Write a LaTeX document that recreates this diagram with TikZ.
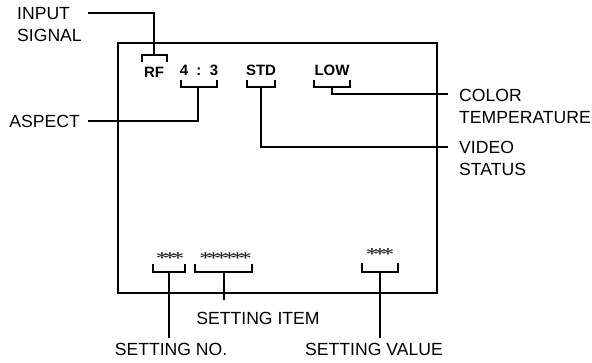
\documentclass[tikz,border=0pt]{standalone}
\usepackage{graphicx}
\usepackage{fontspec}
\setmainfont{Liberation Sans}
\usetikzlibrary{positioning, calc}

\newcommand{\onestar}{\makebox[8pt]{\scalebox{1.35}[0.85]{\boldmath$\ast$}}}
\newcommand{\stars}[1]{\foreach \k in {1,...,#1}{\onestar}}

\tikzset{
  lab/.style={font=\fontsize{17.6}{22}\selectfont, inner sep=0pt, align=left},
  osd/.style={font=\fontsize{15}{15}\selectfont\bfseries, inner sep=0pt, anchor=base},
  star/.style={font=\fontsize{18}{18}\selectfont, text=black!85, inner sep=0pt},
  lead/.style={line width=1.6pt},
  brk/.style={line width=2.2pt},
}

\begin{document}
\begin{tikzpicture}[x=1pt, y=-1pt]
\useasboundingbox (0,0) rectangle (592,362);

% screen frame
\node[draw, line width=2.8pt, minimum width=319pt, minimum height=250pt, inner sep=0pt] (screen) at (277.5,168) {};

% on-screen items
\node[osd] (rf) at (154,77) {RF};
\node[osd] (aspect) at (199,75) {4~~:~~3};
\node[osd] (std) at (261,75) {STD};
\node[osd] (low) at (332,75) {LOW};
\node[star] (num) at (170,256) {\stars{3}};
\node[star] (item) at (225.5,256) {\stars{6}};
\node[star] (val) at (380,252) {\stars{3}};

% brackets
\draw[brk] (142,62) -- (142,55) -- (167,55) -- (167,62);
\draw[brk] (181,80) -- (181,87) -- (217,87) -- (217,80);
\draw[brk] (247,80) -- (247,87) -- (275,87) -- (275,80);
\draw[brk] (314,80) -- (314,87) -- (350,87) -- (350,80);
\draw[brk] (153,264) -- (153,272) -- (185,272) -- (185,264);
\draw[brk] (195,264) -- (195,272) -- (252,272) -- (252,264);
\draw[brk] (362,263) -- (362,272) -- (398,272) -- (398,263);
\coordinate (rfbr) at (154,55);
\coordinate (asbr) at (198,87);
\coordinate (stbr) at (261,87);
\coordinate (lowbr) at (332,87);
\coordinate (nobr) at (169,272);
\coordinate (itbr) at (224,272);
\coordinate (vabr) at (380,272);

% labels
\coordinate (inE) at (88,13);
\node[lab, anchor=north west] (inlab) at (17,7) {INPUT\\SIGNAL};
\coordinate (asE) at (88,121);
\node[lab, anchor=east] (aslab) at (80,121) {ASPECT};
\coordinate (ctE) at (448,94);
\node[lab, anchor=north west] (ctlab) at (459,89) {COLOR\\TEMPERATURE};
\coordinate (vsE) at (448,147);
\node[lab, anchor=north west] (vslab) at (459,141) {VIDEO\\STATUS};
\coordinate (noE) at (169,338);
\node[lab, anchor=north] (nolab) at (171,343) {SETTING NO.};
\coordinate (itE) at (224,300);
\node[lab, anchor=north] (itlab) at (258,312) {SETTING ITEM};
\coordinate (vaE) at (380,338);
\node[lab, anchor=north] (valab) at (374,343) {SETTING VALUE};

% leader lines
\draw[lead] (rfbr) |- (inE);
\draw[lead] (asbr) |- (asE);
\draw[lead] (stbr) |- (vsE);
\draw[lead] (lowbr) |- (ctE);
\draw[lead] (nobr) -- (noE);
\draw[lead] (itbr) -- (itE);
\draw[lead] (vabr) -- (vaE);
\end{tikzpicture}
\end{document}
